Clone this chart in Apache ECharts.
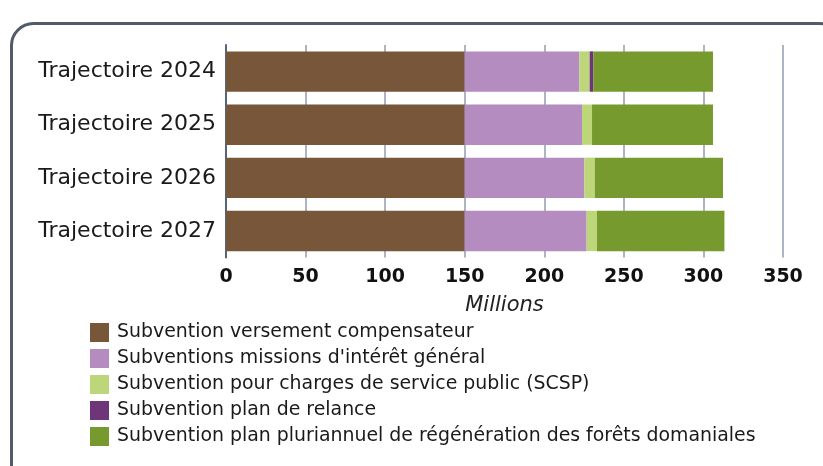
<!DOCTYPE html>
<html>
<head>
<meta charset="utf-8">
<script src="https://cdn.jsdelivr.net/npm/echarts@6/dist/echarts.min.js"></script>
<style>html,body{margin:0;padding:0;background:#fff}#c{width:823px;height:466px}</style>
</head>
<body>
<div id="c"></div>
<script>
var categories = ["Trajectoire 2024", "Trajectoire 2025", "Trajectoire 2026", "Trajectoire 2027"];
var seriesNames = [
  "Subvention versement compensateur",
  "Subventions missions d'intérêt général",
  "Subvention pour charges de service public (SCSP)",
  "Subvention plan de relance",
  "Subvention plan pluriannuel de régénération des forêts domaniales"
];
var versementCompensateur = [150, 150, 150, 150];
var missionsInteretGeneral = [72.0, 73.7, 75.2, 76.6];
var scsp = [6.5, 6.3, 6.5, 6.5];
var planRelance = [2.3, 0, 0, 0];
var planPluriannuel = [75.2, 76.0, 80.6, 80.1];
var xTicks = [0, 50, 100, 150, 200, 250, 300, 350];
var colors = ["#77563a", "#b48cc0", "#bdd67a", "#6e3579", "#769a2d"];

var dataSets = [versementCompensateur, missionsInteretGeneral, scsp, planRelance, planPluriannuel];
var font = "DejaVu Sans";
var chart = echarts.init(document.getElementById('c'));
chart.setOption({
  animation: false,
  textStyle: {fontFamily: font},
  graphic: [{
    type: 'rect', left: 9, top: 21, z: -10,
    shape: {width: 830, height: 470, r: 22},
    style: {fill: 'none', stroke: '#525b6b', lineWidth: 3}
  }],
  grid: {left: 226, right: 40, top: 45, bottom: 208.5},
  xAxis: {
    type: 'value', min: xTicks[0], max: xTicks[xTicks.length - 1], interval: 50,
    name: 'Millions', nameLocation: 'middle', nameGap: 38,
    nameTextStyle: {fontStyle: 'italic', fontSize: 21, color: '#222', fontFamily: font},
    axisLine: {show: false},
    axisTick: {show: false},
    axisLabel: {fontSize: 19, color: '#111', fontWeight: 'bold', margin: 10, fontFamily: font},
    splitLine: {show: true, lineStyle: {color: '#adb4c4', width: 2}}
  },
  yAxis: {
    type: 'category', data: categories, inverse: true,
    axisLine: {show: true, lineStyle: {color: '#5a6478', width: 2}},
    axisTick: {show: false},
    axisLabel: {fontSize: 22, color: '#1a1a1a', margin: 10, fontFamily: font}
  },
  legend: {
    orient: 'vertical', left: 85, top: 318, itemWidth: 19, itemHeight: 19, itemGap: 7,
    icon: 'rect',
    textStyle: {fontSize: 18.9, color: '#1a1a1a', fontFamily: font, padding: [0, 0, 0, 3]},
    data: seriesNames
  },
  series: seriesNames.map(function (n, i) {
    return {
      name: n, type: 'bar', stack: 'total', data: dataSets[i],
      barCategoryGap: '24%',
      itemStyle: {color: colors[i]}
    };
  })
});
</script>
</body>
</html>
